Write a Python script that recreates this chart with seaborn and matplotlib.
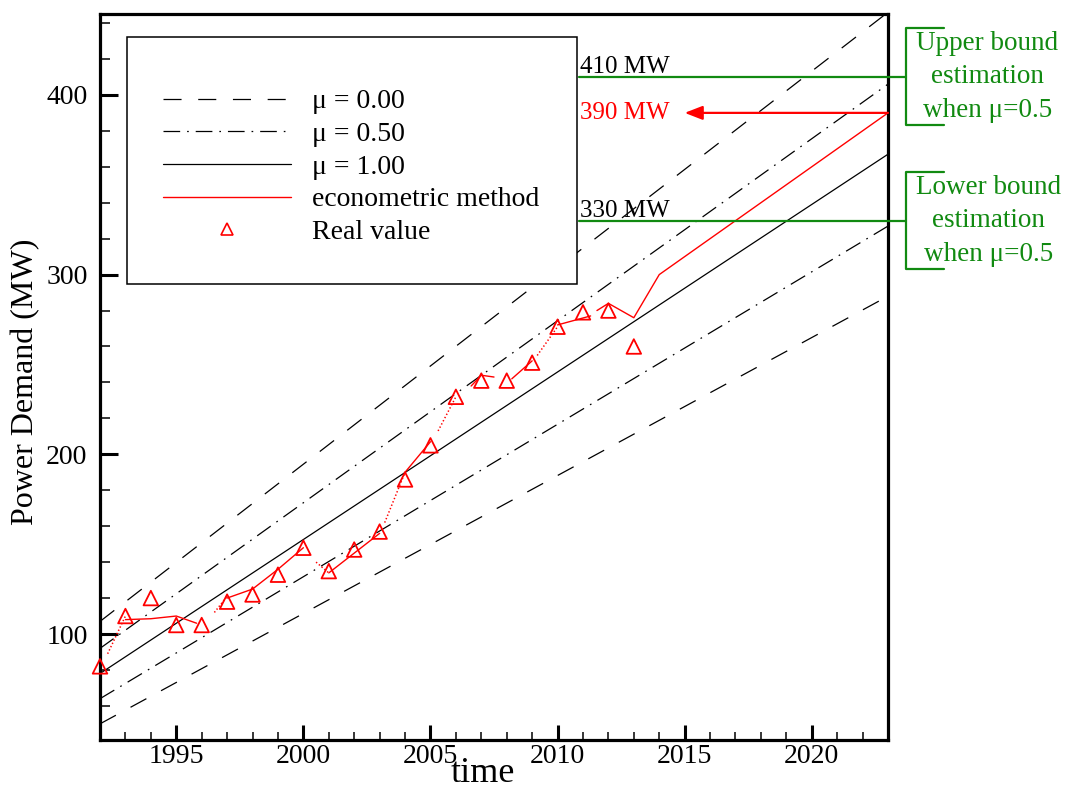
import numpy as np
import pandas as pd
import matplotlib
matplotlib.use("Agg")
import matplotlib.pyplot as plt
import seaborn as sns
from matplotlib.lines import Line2D
from matplotlib.patches import Rectangle
from matplotlib.ticker import MultipleLocator

sns.set_theme(style="white")
plt.rcParams["font.family"] = ["Liberation Serif", "DejaVu Serif"]
plt.rcParams["lines.scale_dashes"] = False
plt.rcParams["text.color"] = "black"
plt.rcParams["axes.labelcolor"] = "black"
plt.rcParams["xtick.color"] = "black"
plt.rcParams["ytick.color"] = "black"

# ---- data -------------------------------------------------------------
real_years = list(range(1992, 2014))
real_mw = [82, 110, 120, 105, 105, 118, 122, 133, 148, 135, 147,
           157, 186, 205, 232, 241, 241, 251, 271, 279, 280, 260]

band_years = [1992, 2023]
mu000_upper = [107, 446]
mu000_lower = [50, 288]
mu050_upper = [92, 406]
mu050_lower = [64, 327]
mu100 = [78, 367]

# econometric forecast, drawn as solid pieces joined by dotted pieces
econ_solid = [
    ([1993, 1994, 1995, 1995.8], [108, 108.5, 110, 106]),
    ([1997, 1998, 1999, 2000], [120, 125, 136, 148]),
    ([2001, 2002, 2003], [134, 145, 156]),
    ([2004, 2005], [190, 207]),
    ([2006.6, 2007, 2007.5], [238, 244, 243]),
    ([2008.2, 2009], [242, 252]),
    ([2010, 2011.3], [272, 277]),
    ([2011.55, 2012, 2013, 2014, 2023], [280, 284, 276, 300, 390]),
]
econ_dotted = [
    ([1992.3, 1993], [89, 110]),
    ([1996.5, 1997], [112, 121]),
    ([2000.5, 2001], [140, 134]),
    ([2003.2, 2004], [162, 190]),
    ([2005.3, 2006], [213, 232]),
    ([2009.2, 2010], [255, 271]),
]

upper_bound = 410
forecast_value = 390
lower_bound = 330

legend_labels = ["\u03bc = 0.00", "\u03bc = 0.50", "\u03bc = 1.00",
                 "econometric method", "Real value"]


def segments_frame(segments):
    rows = []
    for k, (xs, ys) in enumerate(segments):
        for x, y in zip(xs, ys):
            rows.append({"year": x, "mw": y, "seg": k})
    return pd.DataFrame(rows)


# ---- styles -----------------------------------------------------------
DASHED = (0, (13, 12))
DASHDOT = (0, (12, 5, 1.2, 5))
RED = "#ff0000"
GREEN = "#118a11"
FS = 20
FS_NOTE = 18
FS_GREEN = 19.5

fig = plt.figure(figsize=(10.73, 7.93), dpi=100)
ax = fig.add_axes([0.0932, 0.0668, 0.7344, 0.9155])

band = pd.DataFrame({"year": band_years})
for col, style in [(mu000_upper, DASHED), (mu000_lower, DASHED),
                   (mu050_upper, DASHDOT), (mu050_lower, DASHDOT),
                   (mu100, "-")]:
    sns.lineplot(x=band["year"], y=col, ax=ax, color="black",
                 linewidth=0.9, linestyle=style)

solid_df = segments_frame(econ_solid)
dotted_df = segments_frame(econ_dotted)
sns.lineplot(data=solid_df, x="year", y="mw", units="seg", estimator=None,
             sort=False, ax=ax, color=RED, linewidth=1.0)
sns.lineplot(data=dotted_df, x="year", y="mw", units="seg", estimator=None,
             sort=False, ax=ax, color=RED, linewidth=1.1,
             linestyle=(0, (1, 1.6)))

sns.scatterplot(x=real_years, y=real_mw, ax=ax, marker="^", s=110,
                facecolors="none", edgecolor=RED, linewidth=1.3, zorder=5,
                clip_on=False)

# ---- axes -------------------------------------------------------------
ax.set_xlim(1992, 2023)
ax.set_ylim(41, 445)
ax.xaxis.set_major_locator(MultipleLocator(5))
ax.xaxis.set_minor_locator(MultipleLocator(1))
ax.yaxis.set_major_locator(MultipleLocator(100))
ax.yaxis.set_minor_locator(MultipleLocator(20))
ax.tick_params(which="both", direction="in", left=True, bottom=True,
               top=False, right=False, colors="black")
ax.tick_params(axis="y", which="major", length=13, width=2.2, pad=9,
               labelsize=FS)
ax.tick_params(axis="y", which="minor", length=7, width=1.1)
ax.tick_params(axis="x", which="major", length=11, width=2.2, pad=3,
               labelsize=FS)
ax.tick_params(axis="x", which="minor", length=6, width=1.1)
for sp in ax.spines.values():
    sp.set_color("black")
    sp.set_linewidth(2.3)

xl = ax.set_xlabel("time", fontsize=26)
xl.set_va("center")
ax.xaxis.set_label_coords(0.486, -0.0455)
yl = ax.set_ylabel("Power Demand (MW)", fontsize=23)
yl.set_va("center")
ax.yaxis.set_label_coords(-0.095, 0.494)

# ---- legend -----------------------------------------------------------
ax.add_patch(Rectangle((0.0343, 0.628), 0.571, 0.340,
                       transform=ax.transAxes, facecolor="white",
                       edgecolor="black", linewidth=1.1, zorder=4.5))
handles = [
    Line2D([], [], color="black", lw=0.9, linestyle=DASHED),
    Line2D([], [], color="black", lw=0.9, linestyle=DASHDOT),
    Line2D([], [], color="black", lw=0.9),
    Line2D([], [], color=RED, lw=1.0),
    Line2D([], [], color=RED, lw=0, marker="^", markersize=9,
           markerfacecolor="none", markeredgewidth=1.2),
]
leg = ax.legend(handles, legend_labels, loc="upper left",
                bbox_to_anchor=(0.080, 0.897), fontsize=FS, frameon=False,
                borderpad=0, handlelength=4.6, handletextpad=0.75,
                labelspacing=0.26, borderaxespad=0)
leg.set_zorder(6)
for t in leg.get_texts():
    t.set_color("black")

# ---- bound annotations -------------------------------------------------
x_left = 2010.85
x_br = 2023.7
x_br_end = 2025.2
half = 27
for val in (upper_bound, lower_bound):
    ax.plot([x_left, x_br], [val, val], color=GREEN, lw=1.6, clip_on=False,
            zorder=6)
    ax.plot([x_br_end, x_br, x_br, x_br_end],
            [val + half, val + half, val - half, val - half],
            color=GREEN, lw=1.6, clip_on=False)
    ax.text(x_left + 0.05, val + 2.0, f"{val} MW", fontsize=FS_NOTE,
            color="black", ha="left", va="baseline", zorder=6)

ax.text(2026.9, upper_bound, "Upper bound\nestimation\nwhen \u03bc=0.5",
        color=GREEN, fontsize=FS_GREEN, ha="center", va="center",
        linespacing=1.45, clip_on=False)
ax.text(2026.95, lower_bound, "Lower bound\nestimation\nwhen \u03bc=0.5",
        color=GREEN, fontsize=FS_GREEN, ha="center", va="center",
        linespacing=1.45, clip_on=False)

ax.text(x_left + 0.05, forecast_value, f"{forecast_value} MW",
        fontsize=FS_NOTE, color=RED, ha="left", va="center", zorder=6)
ax.annotate("", xy=(2015.0, forecast_value), xytext=(2023, forecast_value),
            arrowprops=dict(arrowstyle="-|>,head_length=0.9,head_width=0.35",
                            color=RED, lw=1.6, shrinkA=0, shrinkB=0),
            annotation_clip=False)

fig.savefig("out.png", dpi=100, facecolor="white")
